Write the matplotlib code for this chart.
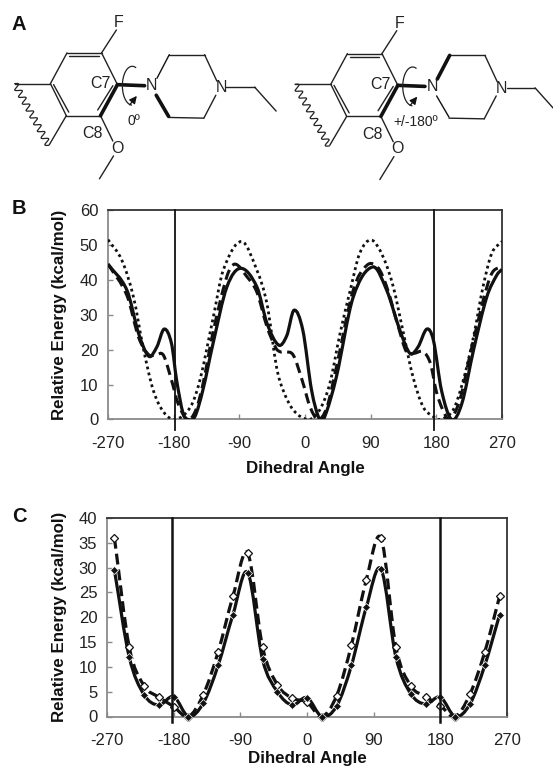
import numpy as np
import matplotlib
matplotlib.use("Agg")
import matplotlib.pyplot as plt
from matplotlib.path import Path
from matplotlib.patches import PathPatch

plt.rcParams['font.family'] = ['Liberation Sans', 'DejaVu Sans']
plt.rcParams['axes.unicode_minus'] = False

W, H = 553, 767
ink = '#111111'
grey = '#8a8a8a'

x_ticks = [-270, -180, -90, 0, 90, 180, 270]

# panel B curves
b_solid_x = [-270, -244, -228, -214, -203, -193, -183, -176, -167, -160, -151, -140, -126, -107, -88, -66, -52,
             -36, -25, -15, -3, 9, 20, 27, 43, 66, 93, 112, 130, 144, 155, 167, 176, 187, 201, 215, 231, 249, 263, 270]
b_solid_y = [44.5, 37, 24.6, 18.1, 20.8, 25.9, 21.8, 11.3, 1.7, 0, 0.8, 8.4, 21.8, 38, 43.3, 38, 27.5,
             21.3, 24, 31.3, 25.6, 8.4, 0, 0.8, 12.2, 35, 43.7, 37, 25.6, 18.9, 20.8, 25.9, 22.7, 8.4, 0, 4.6, 19.9, 35, 41.4, 43]
b_dash_x = [-270, -244, -228, -214, -204, -194, -183, -174, -161, -150, -140, -126, -107, -96, -80, -66, -52,
            -40, -34, -27, -16, -4, 7, 18, 30, 43, 66, 85, 100, 112, 128, 139, 150, 162, 172, 180, 189, 198, 212, 230, 254, 270]
b_dash_y = [44.5, 35.5, 23.5, 18.5, 18.6, 18.4, 11.3, 4.6, 0, 2.5, 10, 25, 41, 44.5, 41, 36.5, 26.5,
            20.5, 19.4, 19.4, 18.4, 11.3, 3.6, 0, 3.5, 15, 37, 44.2, 43.5, 38, 26.5, 19.4, 19, 19.4, 16, 8, 2.7, 0, 5.5, 22, 40.9, 44]
b_dot_x = [-270, -251, -235, -222, -208, -194, -178, -157, -144, -126, -112, -87, -66, -52, -39, -30, -16, 5,
           20, 34, 48, 62, 75, 91, 107, 121, 134, 148, 162, 176, 185, 203, 217, 231, 244, 256, 270]
b_dot_y = [51.5, 45.6, 35, 20.8, 8.4, 2.2, 0, 3.6, 11.3, 29, 42.8, 51, 42.8, 33, 15, 8.4, 2.7, 0,
           2.7, 10.3, 24.6, 37, 47.6, 51.4, 46.6, 38, 25.6, 12.2, 3.6, 0.8, 0, 2.7, 11.3, 23.7, 38, 47.6, 51]
b_vlines = [-178, 177]

# panel C curves
c_x = [-260, -240, -220, -200, -180, -160, -140, -120, -100, -80, -60, -40, -20,
       0, 20, 40, 60, 80, 100, 120, 140, 160, 180, 200, 220, 240, 260]
c_filled = [29.5, 12, 4.4, 2.3, 4, 0, 2.7, 10.3, 20.5, 29, 11.5, 5, 2.3,
            3.8, 0, 2.1, 10.3, 22, 29.7, 12, 4.6, 2.5, 3.9, 0, 2.5, 10.3, 20.5]
c_open = [36, 14, 6.2, 3.9, 2, 0, 4.4, 13, 24.2, 32.9, 14, 6.4, 3.7,
          2.9, 0, 4.2, 14.4, 27.5, 35.9, 14, 6.2, 4, 2.2, 0, 4.5, 13, 24.2]
c_vlines = [-182, 180]


def axes_px(fig, left, top, right, bottom):
    return fig.add_axes([left / W, 1 - bottom / H, (right - left) / W, (bottom - top) / H])


# smoothed line through the read points, works with uneven spacing
def smooth_line(ax, xs, ys, **kw):
    x = np.array(xs, dtype=float)
    y = np.array(ys, dtype=float)
    slope = np.gradient(y, x)
    slope[1:-1] = (y[2:] - y[:-2]) / (x[2:] - x[:-2])
    verts = [(x[0], y[0])]
    codes = [Path.MOVETO]
    for i in range(len(x) - 1):
        h = x[i + 1] - x[i]
        verts += [(x[i] + h / 3, y[i] + slope[i] * h / 3),
                  (x[i + 1] - h / 3, y[i + 1] - slope[i + 1] * h / 3),
                  (x[i + 1], y[i + 1])]
        codes += [Path.CURVE4] * 3
    ax.add_patch(PathPatch(Path(verts, codes), fill=False, capstyle='butt', **kw))


def style_axes(ax, ymax, ystep, vlines, vline_low, vline_w):
    ax.set_xlim(-270, 270)
    ax.set_ylim(0, ymax)
    ax.set_xticks(x_ticks)
    ax.set_yticks(np.arange(0, ymax + 1, ystep))
    ax.tick_params(direction='in', length=3.5, width=1, color=grey, labelsize=12,
                   labelcolor='#222222')
    ax.tick_params(axis='x', pad=12)
    ax.tick_params(axis='y', pad=7)
    for s in ['left', 'bottom']:
        ax.spines[s].set_color(grey)
        ax.spines[s].set_linewidth(1.3)
    for s in ['top', 'right']:
        ax.spines[s].set_color('#333333')
        ax.spines[s].set_linewidth(1.3)
    ax.set_xlabel('Dihedral Angle', fontsize=12.2, fontweight='bold', color=ink)
    ax.set_ylabel('Relative Energy (kcal/mol)', fontsize=12.2, fontweight='bold', color=ink)
    box = ax.get_position()
    ax.yaxis.set_label_coords((67 / W - box.x0) / box.width, 0.5)
    for x in vlines:
        ax.axvline(x, ymin=vline_low, ymax=1, color=ink, lw=vline_w, clip_on=False, zorder=6)


fig = plt.figure(figsize=(W / 100, H / 100), dpi=100)

ax_b = axes_px(fig, 108, 210, 502, 419.5)
style_axes(ax_b, 60, 10, b_vlines, -0.05, 1.3)
ax_b.xaxis.set_label_coords(0.5, -0.197)
smooth_line(ax_b, b_dot_x, b_dot_y, color=ink, lw=2.0, linestyle=(0, (1, 1.2)), zorder=3)
smooth_line(ax_b, b_dash_x, b_dash_y, color=ink, lw=2.2, linestyle=(0, (3.4, 1.8)), zorder=3)
smooth_line(ax_b, b_solid_x, b_solid_y, color=ink, lw=2.3, zorder=4)

ax_c = axes_px(fig, 107, 518, 507, 716.5)
style_axes(ax_c, 40, 5, c_vlines, -0.03, 1.8)
ax_c.xaxis.set_label_coords(0.5, -0.175)
smooth_line(ax_c, c_x, c_open, color=ink, lw=2.3, linestyle=(0, (3.4, 1.6)), zorder=3)
smooth_line(ax_c, c_x, c_filled, color=ink, lw=2.3, zorder=4)
ax_c.plot(c_x, c_open, ls='none', marker='D', ms=4.5, mfc='white', mec=ink, mew=0.9, zorder=5, clip_on=False)
ax_c.plot(c_x, c_filled, ls='none', marker='D', ms=3.7, mfc=ink, mec='white', mew=0.5, zorder=5, clip_on=False)

# panel A is a line drawing, overlay axes in the units of the zoomed crop
zoom_k = 1568 / 553
ov = fig.add_axes([0, 0, 1, 1], facecolor='none')
ov.set_xlim(0, W * zoom_k)
ov.set_ylim(H * zoom_k, 0)
ov.axis('off')

thin_bonds = [
    ((190, 150), (288, 150)), ((197, 159), (280, 159)),
    ((288, 150), (333, 240)), ((285, 328), (188, 328)),
    ((188, 328), (143, 237)), ((143, 237), (190, 150)),
    ((152, 240), (195, 318)), ((320, 243), (277, 312)),
    ((288, 150), (330, 85)), ((285, 328), (320, 400)),
    ((322, 442), (282, 507)), ((143, 237), (42, 237)),
    ((188, 328), (140, 410)),
    ((480, 155), (580, 155)), ((580, 155), (615, 230)),
    ((612, 270), (578, 335)), ((578, 335), (478, 333)),
    ((642, 247), (722, 247)), ((722, 247), (783, 315)),
]
bold_bonds = [((333, 240), (285, 328)), ((333, 240), (410, 243))]
atom_labels = [('F', 337, 65), ('C7', 285, 237), ('C8', 262, 378), ('N', 430, 243), ('N', 627, 248), ('O', 332, 420)]
ring_upper = ((445, 222), (480, 155))
ring_lower = ((478, 330), (443, 270))


def bond(a, b, dx, dy, lw, color='#222222'):
    ov.plot([a[0] + dx, b[0] + dx], [a[1] + dy, b[1] + dy], color=color, lw=lw, solid_capstyle='round')


def molecule(dx, dy, bold_upper, angle_text, angle_x):
    for a, b in thin_bonds:
        bond(a, b, dx, dy, 1.0)
    for a, b in bold_bonds:
        bond(a, b, dx, dy, 2.6, ink)
    bond(*ring_upper, dx, dy, 2.6 if bold_upper else 1.0, ink)
    bond(*ring_lower, dx, dy, 1.0 if bold_upper else 2.6, ink)
    for txt, x, y in atom_labels:
        ov.text(x + dx, y + dy, txt, ha='center', va='center', fontsize=11.5, color='#222222')
    ov.text(angle_x + dx, 343 + dy, angle_text, ha='center', va='center', fontsize=10, color='#222222')
    # wavy cut line
    t = np.linspace(0, 1, 160)
    wave = np.sin(t * 2 * np.pi * 9)
    ov.plot(42 + 96 * t + 8 * wave + dx, 237 + 175 * t - 4 * wave + dy, color='#222222', lw=0.9)
    # rotation arrow
    th = np.radians(np.linspace(-70, -265, 60))
    ov.plot(375 + dx + 28 * np.cos(th), 243 + dy + 55 * np.sin(th), color='#222222', lw=0.9)
    ov.annotate('', xy=(388 + dx, 272 + dy), xytext=(368 + dx, 297 + dy),
                arrowprops=dict(arrowstyle='-|>', color=ink, lw=0.9, mutation_scale=11, shrinkA=0, shrinkB=0))


molecule(0, 0, False, '0º', 380)
molecule(795, 2, True, '+/-180º', 385)

for letter, x, y in [('A', 19, 25), ('B', 19, 209), ('C', 19, 516)]:
    fig.text(x / W, 1 - y / H, letter, ha='center', va='center', fontsize=14.5, fontweight='bold', color=ink)

fig.savefig('out.png', dpi=100)
